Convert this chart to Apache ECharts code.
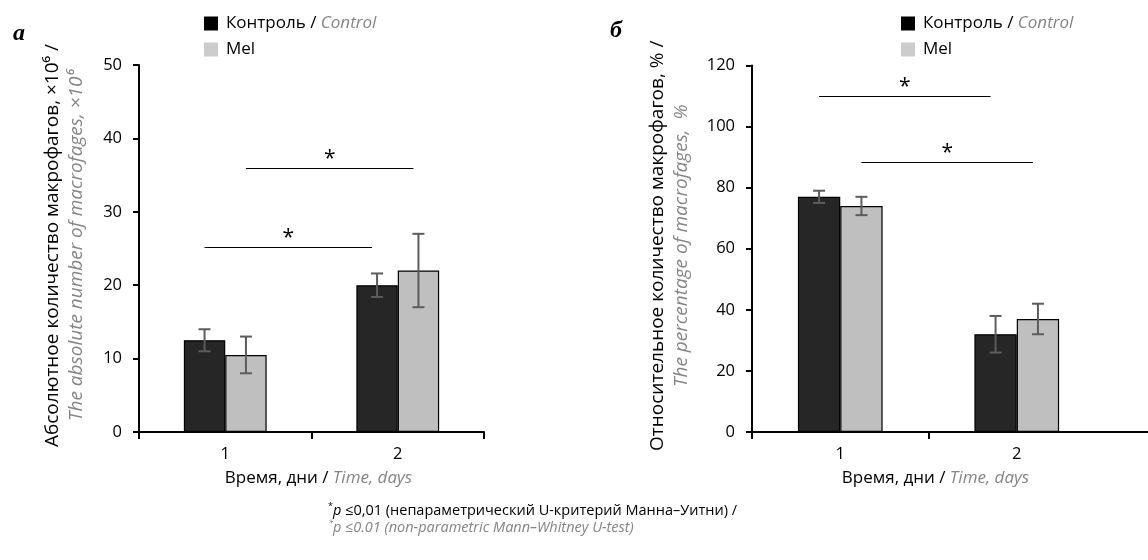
<!DOCTYPE html>
<html>
<head>
<meta charset="utf-8">
<script src="https://cdn.jsdelivr.net/npm/echarts@6/dist/echarts.min.js"></script>
<style>
  html, body { margin: 0; padding: 0; background: #fff; }
  #chart { width: 1148px; height: 560px; }
</style>
</head>
<body>
<div id="chart"></div>
<script>
// Days after treatment (category axis)
const days = ['1', '2'];
const groupNames = ['Контроль', 'Mel'];

// Panel a: absolute number of macrophages, ×10^6 (mean and error)
const absControl = [12.5, 20];
const absControlErr = [1.5, 1.6];
const absMel = [10.5, 22];
const absMelErr = [2.5, 5];
const absAxis = { min: 0, max: 50, interval: 10 };

// Panel b: percentage of macrophages (mean and error)
const pctControl = [77, 32];
const pctControlErr = [2, 6];
const pctMel = [74, 37];
const pctMelErr = [3, 5];
const pctAxis = { min: 0, max: 120, interval: 20 };

// Significance brackets: [from day index, from group index, to day index, to group index, level]
const absBrackets = [[0, 0, 1, 0, 25.2], [0, 1, 1, 1, 36]];
const pctBrackets = [[0, 0, 1, 0, 110], [0, 1, 1, 1, 88.5]];

const FONT = 'Open Sans';
const GRAY = '#858585';
const GAP = 0.52;            // bar category gap as a fraction of the band
const COLORS = ['#262626', '#bfbfbf'];
const LEGEND_COLORS = ['#000000', '#cccccc'];
const TICK_SIZE = 16.5;
const TEXT_SIZE = 17;
const NAME_SIZE = 19;

const gridA = { left: 139, right: 664, top: 65, bottom: 128 };
const gridB = { left: 752, right: 43, top: 65.5, bottom: 128 };

function barOffset(api, group) {
  const band = api.size([1, 0])[0];
  const barW = band * (1 - GAP) / 2;
  return (group === 0 ? -1 : 1) * barW / 2;
}

function errorRenderer(group) {
  return function (params, api) {
    const cat = api.value(0), v = api.value(1), e = api.value(2);
    const hi = api.coord([cat, v + e]);
    const lo = api.coord([cat, v - e]);
    const x = hi[0] + barOffset(api, group);
    const cap = 6;
    const st = { stroke: '#5c5c5c', lineWidth: 2 };
    return {
      type: 'group',
      children: [
        { type: 'line', shape: { x1: x, y1: hi[1], x2: x, y2: lo[1] }, style: st },
        { type: 'line', shape: { x1: x - cap, y1: hi[1], x2: x + cap, y2: hi[1] }, style: st },
        { type: 'line', shape: { x1: x - cap, y1: lo[1], x2: x + cap, y2: lo[1] }, style: st }
      ]
    };
  };
}

function bracketRenderer(params, api) {
  const c0 = api.value(0), g0 = api.value(1), c1 = api.value(2), g1 = api.value(3), lv = api.value(4);
  const p0 = api.coord([c0, lv]);
  const p1 = api.coord([c1, lv]);
  const x0 = p0[0] + barOffset(api, g0);
  const x1 = p1[0] + barOffset(api, g1) - 5;
  const y = Math.round(p0[1]) + 0.5;
  return {
    type: 'group',
    children: [
      { type: 'line', shape: { x1: x0, y1: y, x2: x1, y2: y }, style: { stroke: '#000', lineWidth: 1 } },
      { type: 'text', x: (x0 + x1) / 2, y: y - 9,
        style: { text: '*', font: '21px "' + FONT + '"', fill: '#000', align: 'center', verticalAlign: 'middle' } }
    ]
  };
}

function withIndex(vals, errs) {
  return vals.map((v, i) => [i, v, errs[i]]);
}

function xAxisFor(gridIndex) {
  return {
    type: 'category', gridIndex: gridIndex, data: days,
    axisLine: { lineStyle: { color: '#000', width: 2 } },
    axisTick: { show: true, length: 7, lineStyle: { color: '#000', width: 2 } },
    axisLabel: { color: '#000', fontFamily: FONT, fontSize: TICK_SIZE, margin: 14 },
    name: '{a|Время, дни / }{b|Time, days}',
    nameLocation: 'middle', nameGap: 38,
    nameTextStyle: {
      padding: [0, 0, 0, 14],
      rich: {
        a: { color: '#000', fontFamily: FONT, fontSize: TEXT_SIZE },
        b: { color: GRAY, fontFamily: FONT, fontSize: TEXT_SIZE, fontStyle: 'italic' }
      }
    }
  };
}

function yAxisFor(gridIndex, range, line1, line2, gap) {
  return {
    type: 'value', gridIndex: gridIndex,
    min: range.min, max: range.max, interval: range.interval,
    splitLine: { show: false },
    axisLine: { show: true, lineStyle: { color: '#000', width: 2 } },
    axisTick: { show: true, length: 6, lineStyle: { color: '#000', width: 2 } },
    axisLabel: { color: '#000', fontFamily: FONT, fontSize: TICK_SIZE, margin: 17 },
    name: '{a|' + line1 + '}\n{b|' + line2 + '}',
    nameLocation: 'middle', nameRotate: 90, nameGap: gap,
    nameTextStyle: {
      padding: [0, 0, 0, 6],
      rich: {
        a: { color: '#000', fontFamily: FONT, fontSize: NAME_SIZE, lineHeight: 24 },
        b: { color: GRAY, fontFamily: FONT, fontSize: NAME_SIZE, fontStyle: 'italic', lineHeight: 24 }
      }
    }
  };
}

function barSeries(name, idx, data) {
  return {
    type: 'bar', name: name, xAxisIndex: idx, yAxisIndex: idx, data: data,
    barGap: '0%', barCategoryGap: (GAP * 100) + '%',
    itemStyle: { color: COLORS[groupNames.indexOf(name)], borderColor: '#000', borderWidth: 1.2 },
    emphasis: { disabled: true }
  };
}

function errorSeries(idx, group, vals, errs) {
  return {
    type: 'custom', xAxisIndex: idx, yAxisIndex: idx, z: 5,
    data: withIndex(vals, errs), encode: { x: 0, y: 1 },
    renderItem: errorRenderer(group), silent: true
  };
}

function bracketSeries(idx, brackets) {
  return {
    type: 'custom', xAxisIndex: idx, yAxisIndex: idx, z: 5,
    data: brackets, encode: { x: [0, 2], y: 4 },
    renderItem: bracketRenderer, silent: true
  };
}

function legendAt(left) {
  return {
    left: left, top: 15, orient: 'vertical', padding: 0,
    itemWidth: 14, itemHeight: 14, itemGap: 9, icon: 'rect',
    selectedMode: false,
    data: groupNames.map((n, i) => ({ name: n, itemStyle: { color: LEGEND_COLORS[i], borderWidth: 0 } })),
    formatter: n => n === 'Контроль' ? '{a|Контроль / }{b|Control}' : '{a|' + n + '}',
    textStyle: {
      padding: [0, 0, 0, 3],
      rich: {
        a: { color: '#000', fontFamily: FONT, fontSize: TEXT_SIZE, lineHeight: 18 },
        b: { color: GRAY, fontFamily: FONT, fontSize: TEXT_SIZE, fontStyle: 'italic', lineHeight: 18 }
      }
    }
  };
}

const chart = echarts.init(document.getElementById('chart'), null, { renderer: 'canvas' });

const option = {
  animation: false,
  backgroundColor: '#fff',
  grid: [gridA, gridB],
  legend: [legendAt(204), legendAt(901)],
  xAxis: [xAxisFor(0), xAxisFor(1)],
  yAxis: [
    yAxisFor(0, absAxis, 'Абсолютное количество макрофагов, ×10⁶ /', 'The absolute number of macrofages, ×10⁶', 50),
    yAxisFor(1, pctAxis, 'Относительное количество макрофагов, % /', 'The percentage of macrofages,  %', 58)
  ],
  series: [
    barSeries('Контроль', 0, absControl),
    barSeries('Mel', 0, absMel),
    errorSeries(0, 0, absControl, absControlErr),
    errorSeries(0, 1, absMel, absMelErr),
    bracketSeries(0, absBrackets),
    barSeries('Контроль', 1, pctControl),
    barSeries('Mel', 1, pctMel),
    errorSeries(1, 0, pctControl, pctControlErr),
    errorSeries(1, 1, pctMel, pctMelErr),
    bracketSeries(1, pctBrackets)
  ]
};
chart.setOption(option);

// Panel letters, footnote, and the open right end of panel b's x axis
const W = chart.getWidth(), H = chart.getHeight();
const axisEndB = W - gridB.right;
const axisYB = H - gridB.bottom;
chart.setOption({
  graphic: [
    { type: 'text', left: 13, top: 22, style: { text: 'а', font: 'italic bold 24px "Liberation Serif"', fill: '#000' } },
    { type: 'text', left: 610, top: 19, style: { text: 'б', font: 'italic bold 24px "Liberation Serif"', fill: '#000' } },
    { type: 'rect', shape: { x: axisEndB - 2, y: axisYB + 1, width: 4, height: 10 }, style: { fill: '#fff' }, z: 100 },
    { type: 'line', shape: { x1: axisEndB - 1, y1: axisYB, x2: W, y2: axisYB }, style: { stroke: '#000', lineWidth: 2 }, z: 100 },
    {
      type: 'text', left: 328, top: 502,
      style: {
        text: '{s|*}{i|p}{n| ≤0,01 (непараметрический U-критерий Манна–Уитни) /}',
        rich: {
          s: { fontFamily: FONT, fontSize: 9, fill: '#000', verticalAlign: 'top', lineHeight: 18 },
          i: { fontFamily: FONT, fontSize: 14.5, fill: '#000', fontStyle: 'italic', lineHeight: 18 },
          n: { fontFamily: FONT, fontSize: 14.5, fill: '#000', lineHeight: 18 }
        }
      }
    },
    {
      type: 'text', left: 328, top: 519,
      style: {
        text: '{s|*}{n|p ≤0.01 (non-parametric Mann–Whitney U-test)}',
        rich: {
          s: { fontFamily: FONT, fontSize: 9, fill: GRAY, fontStyle: 'italic', verticalAlign: 'top', lineHeight: 18 },
          n: { fontFamily: FONT, fontSize: 14.5, fill: GRAY, fontStyle: 'italic', lineHeight: 18 }
        }
      }
    }
  ]
});
</script>
</body>
</html>
